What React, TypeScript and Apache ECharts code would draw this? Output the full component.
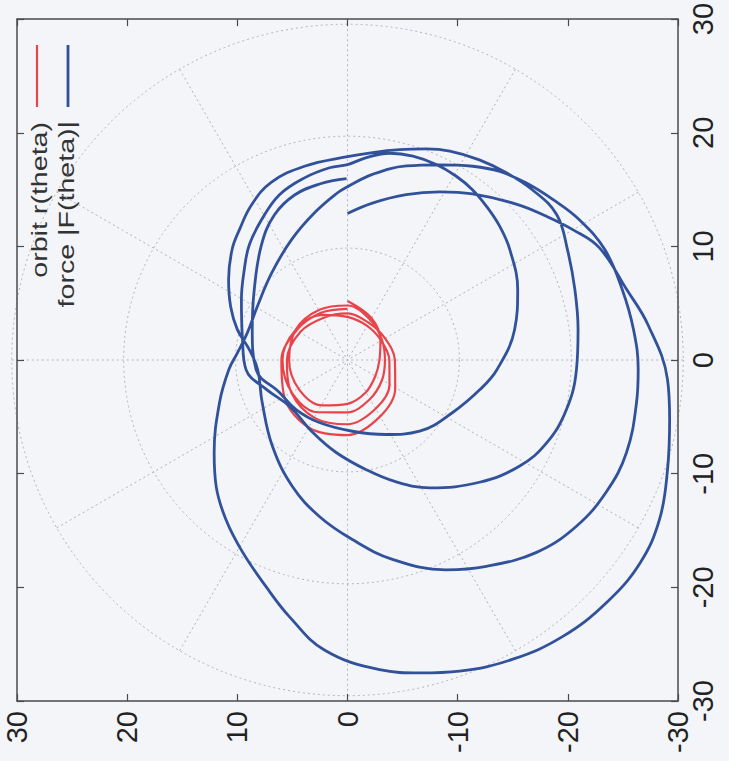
import React, { useEffect, useRef } from "react";
import * as echarts from "echarts";

// Tick values shown on both frame axes
const tickValues = [30, 20, 10, 0, -10, -20, -30];
const legendNames = ["orbit r(theta)", "force |F(theta)|"];

// orbit r(theta): theta in degrees (clockwise on screen from the top), r in plot units
const orbitTheta = [
  0, 30, 60, 90, 120, 150, 180, 210, 240, 270, 300, 330,
  360, 390, 420, 450, 480, 510, 540, 570, 600, 630, 660, 690,
  720, 750, 780, 810, 840, 870, 900, 930, 960, 990, 1020, 1050,
  1080, 1110, 1140, 1170, 1200, 1230, 1260, 1290, 1320, 1350, 1380, 1410,
  1440,
];
const orbitR = [
  5.2, 4.3, 3.45, 2.9, 2.9, 3.3, 3.85, 4.6, 5.1, 5.3, 5.4, 5.1,
  4.8, 4.1, 3.6, 3.4, 3.6, 4.0, 4.6, 5.3, 5.8, 5.9, 5.4, 4.6,
  3.8, 3.5, 3.5, 3.8, 4.4, 5.0, 5.65, 5.9, 5.85, 5.5, 4.95, 4.3,
  4.1, 3.8, 3.9, 4.3, 5.0, 5.8, 6.6, 6.9, 6.6, 6.0, 5.3, 4.8,
  4.5,
];

// force |F(theta)|
const forceTheta = [
  0, 9.3, 20.1, 29.5, 37.8, 48.3, 55.0, 60.7, 66.6, 76.3, 83.5, 93.4, 100.1, 108.3, 116.3, 123.9,
  132.2, 141.2, 150.3, 159.6, 166.6, 173.9, 184.7, 193.1, 200.4, 209.4, 218.2, 227.0, 236.0, 252.2,
  265.6, 273.8, 284.9, 300.1, 318.1, 334.4, 347.0, 356.5,
  360, 367.9, 377.4, 385.9, 393.7, 399.8, 406.2, 412.9, 419.6, 427.4, 436.0, 444.1, 451.8, 458.1,
  467.8, 476.3, 485.2, 494.6, 505.2, 514.2, 526.9, 538.4, 550.5, 564.2, 581.9, 604.2, 624.2, 635.9,
  645.0, 653.9, 663.2, 672.9, 679.5, 687.5, 696.1, 707.1,
  720, 727.1, 734.3, 741.0, 746.8, 754.2, 761.2, 768.3, 776.0, 784.1, 793.3, 802.7, 812.3, 822.3,
  831.9, 840.8, 851.9, 866.4, 877.6, 890.0, 907.2, 926.5, 952.4, 970.7, 984.8, 1000.7, 1018.9,
  1030.4, 1038.7, 1047.7, 1057.0, 1066.3, 1074.5,
  1080, 1085.5, 1091.9, 1098.3, 1105.1, 1111.4, 1117.1, 1123.0, 1129.6, 1136.6, 1148.1, 1160.0,
  1173.5, 1182.2, 1195.8, 1213.7, 1231.7, 1255.9, 1284.9, 1307.0, 1325.2, 1344.2, 1367.2, 1386.3,
  1402.4, 1412.6, 1421.7, 1430.7, 1439.7,
];
const forceR = [
  12.9, 14.0, 15.5, 17.0, 18.5, 20.6, 22.05, 23.45, 24.9, 26.1, 27.45, 29.1, 29.7, 30.6, 31.6, 32.0,
  31.75, 31.2, 30.3, 29.2, 28.3, 27.4, 25.6, 23.2, 21.25, 19.4, 17.85, 16.3, 14.6, 12.2,
  10.8, 10.0, 9.4, 9.45, 10.3, 11.75, 13.3, 14.75,
  15.26, 16.5, 17.9, 19.1, 20.5, 21.6, 22.5, 23.4, 24.4, 25.3, 25.7, 26.1, 26.4, 26.5,
  26.6, 26.2, 25.4, 24.1, 22.1, 20.5, 18.0, 15.8, 14.0, 12.2, 10.2, 8.6, 8.2, 8.96,
  10.35, 11.6, 12.9, 14.3, 15.1, 16.2, 17.1, 17.5,
  17.9, 18.4, 19.1, 19.9, 20.6, 21.3, 21.9, 22.5, 22.9, 22.2, 21.55, 21.1, 20.8, 20.35,
  19.5, 18.2, 16.1, 13.5, 11.6, 9.8, 8.2, 7.1, 6.65, 7.8, 9.25, 9.7, 11.0,
  12.3, 13.5, 14.6, 15.8, 16.5, 17.0,
  17.2, 17.9, 18.6, 18.9, 19.0, 18.95, 18.8, 18.5, 18.15, 17.65, 16.65, 15.4,
  13.6, 12.3, 10.6, 9.06, 7.44, 6.28, 6.06, 6.38, 6.8, 8.34, 9.05, 10.5,
  12.8, 14.4, 15.3, 15.7, 15.96,
];

const RED = "#e8454b";
const BLUE = "#31529b";
const FRAME = "#4a4a4e";
const GRIDC = "#b2b3bb";
const FONT = "Liberation Sans, Arial, sans-serif";

// polar (theta, r) -> plot coordinates (horizontal axis is reversed)
function toXY(theta: number[], r: number[]) {
  return theta.map((t, i) => {
    const a = (t * Math.PI) / 180;
    return [-r[i] * Math.sin(a), r[i] * Math.cos(a)];
  });
}

export default function App() {
  const ref = useRef<HTMLDivElement>(null);

  useEffect(() => {
    if (!ref.current) return;
    const chart = echarts.init(ref.current, null, { renderer: "svg" });

    const gLeft = 17;
    const gTop = 19;
    const gW = 661;
    const gH = 682;
    const cx = gLeft + gW / 2;
    const cy = gTop + gH / 2;
    const radius = (gW + gH) / 4;
    const tMin = Math.min(...tickValues);
    const tMax = Math.max(...tickValues);

    const frameAxisBase = {
      type: "value" as const,
      min: tMin,
      max: tMax,
      interval: 10,
      axisLine: { show: true, onZero: false, lineStyle: { color: FRAME, width: 1.5 } },
      axisTick: { show: true, inside: true, length: 7, lineStyle: { color: FRAME, width: 1.2 } },
      splitLine: { show: false },
    };
    const labelStyle = {
      rotate: 90,
      fontSize: 29,
      color: "#222",
      fontFamily: FONT,
      showMinLabel: true,
      showMaxLabel: true,
    };

    chart.setOption({
      animation: false,
      backgroundColor: "#f4f5f9",
      grid: { left: gLeft, top: gTop, width: gW, height: gH, show: false },
      xAxis: [
        {
          ...frameAxisBase,
          inverse: true,
          position: "bottom",
          axisLabel: { ...labelStyle, margin: 10 },
        },
        {
          ...frameAxisBase,
          inverse: true,
          position: "top",
          axisLabel: { show: false },
        },
      ],
      yAxis: [
        {
          ...frameAxisBase,
          position: "right",
          axisLabel: { ...labelStyle, margin: 10 },
        },
        {
          ...frameAxisBase,
          position: "left",
          axisLabel: { show: false },
        },
      ],
      polar: { center: [cx, cy], radius: radius },
      angleAxis: {
        type: "value",
        min: 0,
        max: 360,
        interval: 30,
        startAngle: 90,
        clockwise: true,
        axisLine: { show: false },
        axisTick: { show: false },
        axisLabel: { show: false },
        splitLine: { show: true, lineStyle: { color: GRIDC, width: 1, type: [2, 3] } },
      },
      radiusAxis: {
        type: "value",
        min: 0,
        max: 30,
        interval: 10,
        axisLine: { show: false },
        axisTick: { show: false },
        axisLabel: { show: false },
        splitLine: { show: true, lineStyle: { color: GRIDC, width: 1, type: [2, 3] } },
      },
      series: [
        {
          name: legendNames[0],
          type: "line",
          xAxisIndex: 0,
          yAxisIndex: 0,
          data: toXY(orbitTheta, orbitR),
          smooth: 0.35,
          showSymbol: false,
          clip: false,
          lineStyle: { color: RED, width: 2.2 },
        },
        {
          name: legendNames[1],
          type: "line",
          xAxisIndex: 0,
          yAxisIndex: 0,
          data: toXY(forceTheta, forceR),
          smooth: 0.4,
          showSymbol: false,
          clip: false,
          lineStyle: { color: BLUE, width: 2.8 },
        },
      ],
      graphic: [
        {
          type: "line",
          shape: { x1: 37, y1: 45, x2: 37, y2: 107 },
          style: { stroke: RED, lineWidth: 2.2 },
        },
        {
          type: "line",
          shape: { x1: 68, y1: 45, x2: 68, y2: 107 },
          style: { stroke: BLUE, lineWidth: 2.8 },
        },
        {
          type: "text",
          x: 39,
          y: 122,
          rotation: Math.PI / 2,
          scaleX: 1.3,
          style: {
            text: legendNames[0],
            align: "right",
            verticalAlign: "middle",
            fontSize: 22,
            fontFamily: FONT,
            fill: "#333",
          },
        },
        {
          type: "text",
          x: 66,
          y: 121,
          rotation: Math.PI / 2,
          scaleX: 1.3,
          style: {
            text: legendNames[1],
            align: "right",
            verticalAlign: "middle",
            fontSize: 22,
            fontFamily: FONT,
            fill: "#333",
          },
        },
      ],
    });

    return () => chart.dispose();
  }, []);

  return (
    <div
      ref={ref}
      style={{ position: "fixed", left: 0, top: 0, width: 729, height: 761 }}
    />
  );
}
